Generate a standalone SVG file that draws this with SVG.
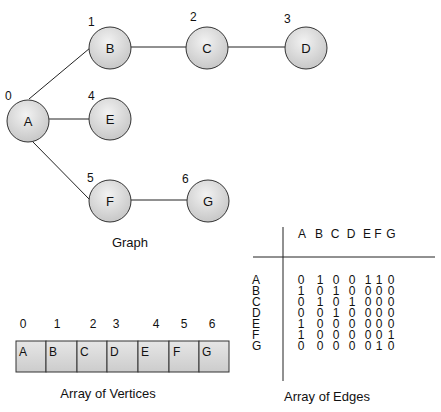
<svg xmlns="http://www.w3.org/2000/svg" width="441" height="412" viewBox="0 0 441 412">
<style>
text{font-family:"Liberation Sans",Arial,sans-serif;font-size:12px;fill:#111}
.n circle{fill:url(#g);stroke:#333;stroke-width:1}
.n text{text-anchor:middle;font-size:13px}
.e line{stroke:#222;stroke-width:1}
.cell{fill:url(#cg);stroke:#333;stroke-width:1}
.m{text-anchor:middle}
.cap{font-size:13px;text-anchor:middle}
</style>
<defs>
<radialGradient id="g" cx="0.45" cy="0.35" r="0.7">
<stop offset="0" stop-color="#f2f2f2"/>
<stop offset="1" stop-color="#c4c4c4"/>
</radialGradient>
<linearGradient id="cg" x1="0" y1="0" x2="0" y2="1">
<stop offset="0" stop-color="#e6e6e6"/>
<stop offset="1" stop-color="#cccccc"/>
</linearGradient>
</defs>
<rect width="441" height="412" fill="#fff"/>
<g id="connectors" class="e">
<line x1="29" y1="99" x2="90" y2="48"/>
<line x1="49" y1="119" x2="89" y2="119"/>
<line x1="32" y1="141" x2="90" y2="200"/>
<line x1="131" y1="47" x2="187" y2="47"/>
<line x1="228" y1="47" x2="285" y2="47"/>
<line x1="131" y1="200" x2="187" y2="200"/>
</g>
<g id="A" class="n"><circle cx="28" cy="121" r="21"/><text x="28" y="126">A</text></g>
<g id="B" class="n"><circle cx="110" cy="48" r="21"/><text x="110" y="53">B</text></g>
<g id="C" class="n"><circle cx="207" cy="48" r="21"/><text x="207" y="53">C</text></g>
<g id="D" class="n"><circle cx="306" cy="48" r="21"/><text x="306" y="53">D</text></g>
<g id="E" class="n"><circle cx="110" cy="119" r="21"/><text x="110" y="124">E</text></g>
<g id="F" class="n"><circle cx="110" cy="201" r="21"/><text x="110" y="206">F</text></g>
<g id="G" class="n"><circle cx="208" cy="201" r="21"/><text x="208" y="206">G</text></g>
<g id="indices">
<text x="5" y="100">0</text>
<text x="88" y="26">1</text>
<text x="190" y="21">2</text>
<text x="284" y="23">3</text>
<text x="88" y="100">4</text>
<text x="87" y="182">5</text>
<text x="182" y="183">6</text>
</g>
<text class="cap" x="130" y="247">Graph</text>
<g id="edges-table">
<line x1="283" y1="227" x2="283" y2="381" stroke="#222"/>
<line x1="253" y1="257" x2="435" y2="257" stroke="#222"/>
<text class="m"><tspan x="302 319 335 351 367 378 391" y="238">ABCDEFG</tspan></text>
<text><tspan x="252" y="284">A</tspan><tspan x="252" y="295">B</tspan><tspan x="252" y="306">C</tspan><tspan x="252" y="317">D</tspan><tspan x="252" y="328">E</tspan><tspan x="252" y="339">F</tspan><tspan x="252" y="350">G</tspan></text>
<text class="m"><tspan x="301 320 336 352 368 379 391" y="284">0100110</tspan><tspan x="301 320 336 352 368 379 391" y="295">1010000</tspan><tspan x="301 320 336 352 368 379 391" y="306">0101000</tspan><tspan x="301 320 336 352 368 379 391" y="317">0010000</tspan><tspan x="301 320 336 352 368 379 391" y="328">1000000</tspan><tspan x="301 320 336 352 368 379 391" y="339">1000001</tspan><tspan x="301 320 336 352 368 379 391" y="350">0000010</tspan></text>
<text class="cap" x="327" y="401">Array of Edges</text>
</g>
<g id="vertex-array">
<text class="m"><tspan x="23 57 93 116 156 184 212" y="328">0123456</tspan></text>
<rect class="cell" x="16" y="341" width="30" height="31"/>
<rect class="cell" x="46" y="341" width="31" height="31"/>
<rect class="cell" x="77" y="341" width="30" height="31"/>
<rect class="cell" x="107" y="341" width="31" height="31"/>
<rect class="cell" x="138" y="341" width="31" height="31"/>
<rect class="cell" x="169" y="341" width="30" height="31"/>
<rect class="cell" x="199" y="341" width="30" height="31"/>
<text x="19" y="356">A</text><text x="49" y="356">B</text><text x="80" y="356">C</text><text x="110" y="356">D</text><text x="141" y="356">E</text><text x="173" y="356">F</text><text x="202" y="356">G</text>
<text class="cap" x="108" y="398">Array of Vertices</text>
</g>
</svg>
